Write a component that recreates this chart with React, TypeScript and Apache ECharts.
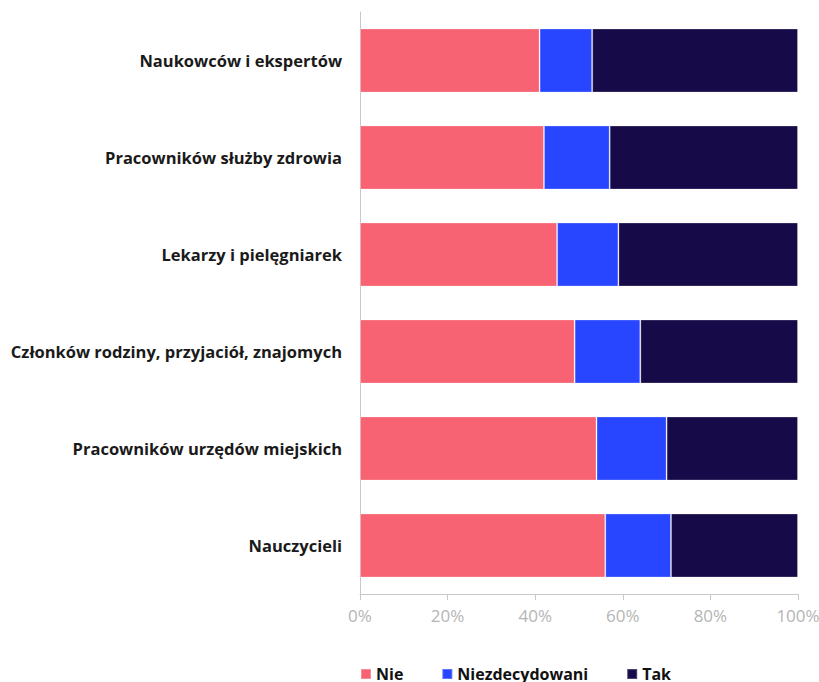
import React, { useEffect, useRef } from "react";
import * as echarts from "echarts";

const categories = [
  "Naukowców i ekspertów",
  "Pracowników służby zdrowia",
  "Lekarzy i pielęgniarek",
  "Członków rodziny, przyjaciół, znajomych",
  "Pracowników urzędów miejskich",
  "Nauczycieli",
];
const nie = [41, 42, 45, 49, 54, 56];
const niezdecydowani = [12, 15, 14, 15, 16, 15];
const tak = [47, 43, 41, 36, 30, 29];
const xTicks = [0, 20, 40, 60, 80, 100];

const FONT = "'Open Sans', 'Noto Sans', sans-serif";

export default function App() {
  const ref = useRef<HTMLDivElement>(null);
  useEffect(() => {
    if (!ref.current) return;
    const chart = echarts.init(ref.current, null, { renderer: "svg" });
    const mk = (name: string, data: number[], color: string) => ({
      name,
      type: "bar",
      stack: "total",
      data,
      barWidth: 64,
      itemStyle: { color, borderColor: "rgba(255,255,255,0.25)", borderWidth: 1 },
      emphasis: { disabled: true },
    });
    chart.setOption({
      animation: false,
      textStyle: { fontFamily: FONT },
      grid: {
        left: 360,
        right: 21,
        top: 12,
        bottom: 88,
        containLabel: false,
        outerBoundsMode: "none",
      },
      legend: {
        top: 660,
        left: 355,
        itemWidth: 10,
        itemHeight: 10,
        itemGap: 38,
        icon: "rect",
        textStyle: {
          fontFamily: FONT,
          fontSize: 16,
          lineHeight: 18,
          fontWeight: "bold",
          color: "#111",
        },
        data: ["Nie", "Niezdecydowani", "Tak"],
      },
      xAxis: {
        type: "value",
        min: xTicks[0],
        max: xTicks[xTicks.length - 1],
        interval: 20,
        axisLine: { show: true, lineStyle: { color: "#c8c8c8" } },
        axisTick: { show: true, length: 6, lineStyle: { color: "#c8c8c8" } },
        splitLine: { show: false },
        axisLabel: {
          formatter: "{value}%",
          color: "#b5b5b5",
          fontSize: 17,
          margin: 13,
          fontFamily: FONT,
        },
      },
      yAxis: {
        type: "category",
        data: categories,
        inverse: true,
        axisLine: { show: true, lineStyle: { color: "#c8c8c8" } },
        axisTick: { show: false },
        axisLabel: {
          color: "#1a1a1a",
          fontSize: 16.5,
          fontWeight: "bold",
          margin: 18,
          fontFamily: FONT,
        },
      },
      series: [
        mk("Nie", nie, "#F76372"),
        mk("Niezdecydowani", niezdecydowani, "#2846FF"),
        mk("Tak", tak, "#170A48"),
      ],
    });
    return () => chart.dispose();
  }, []);
  return (
    <div
      ref={ref}
      style={{ position: "absolute", left: 0, top: 0, width: 819, height: 682 }}
    />
  );
}
